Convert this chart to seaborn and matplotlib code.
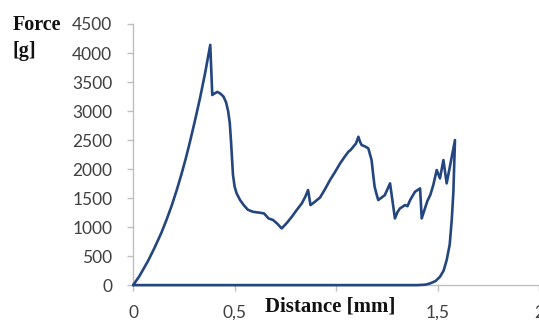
import matplotlib
matplotlib.use("Agg")
import matplotlib.pyplot as plt
import seaborn as sns
import pandas as pd

# Data
distance_mm = [0, 0.03, 0.074, 0.105, 0.139, 0.165, 0.189, 0.215, 0.238, 0.26,
               0.28, 0.305, 0.33, 0.355, 0.38, 0.39, 0.40, 0.415, 0.43, 0.445,
               0.458, 0.468, 0.476, 0.482, 0.487, 0.492, 0.50, 0.51, 0.527, 0.545,
               0.565, 0.59, 0.62, 0.645, 0.667, 0.69, 0.71, 0.732, 0.757, 0.782,
               0.805, 0.831, 0.848, 0.862, 0.874, 0.897, 0.921, 0.945, 0.97, 0.995,
               1.02, 1.04, 1.061, 1.072, 1.085, 1.098, 1.11, 1.118, 1.126, 1.143,
               1.159, 1.175, 1.183, 1.19, 1.2, 1.208, 1.24, 1.266, 1.29, 1.303,
               1.315, 1.34, 1.352, 1.365, 1.389, 1.414, 1.422, 1.45, 1.465, 1.479,
               1.496, 1.512, 1.529, 1.545, 1.586, 1.578, 1.57, 1.56, 1.545, 1.53,
               1.512, 1.49, 1.463, 1.44, 1.40, 0]
force_g = [0, 150, 420, 640, 900, 1130, 1360, 1640, 1910, 2190,
           2470, 2840, 3230, 3660, 4140, 3276, 3300, 3330, 3300, 3250,
           3150, 3000, 2800, 2500, 2200, 1900, 1700, 1580, 1466, 1379,
           1300, 1264, 1250, 1236, 1150, 1121, 1060, 977, 1070, 1178,
           1290, 1408, 1520, 1638, 1379, 1440, 1510, 1650, 1810, 1950,
           2098, 2200, 2299, 2330, 2385, 2440, 2557, 2470, 2414, 2390,
           2357, 2155, 1900, 1695, 1560, 1466, 1550, 1753, 1150, 1260,
           1322, 1380, 1360, 1466, 1609, 1667, 1150, 1450, 1560, 1724,
           1983, 1839, 2155, 1753, 2500, 1600, 1121, 700, 431, 250,
           143, 70, 29, 8, 0, 0]
x_ticks = [0, 0.5, 1, 1.5, 2]
x_tick_labels = ["0", "0,5", "", "1,5", "2"]
y_ticks = [0, 500, 1000, 1500, 2000, 2500, 3000, 3500, 4000, 4500]
y_tick_labels = [str(v) for v in y_ticks]

df = pd.DataFrame({"d": distance_mm, "f": force_g})

sns.set_style("white")
plt.rcParams["font.family"] = ["Lato", "DejaVu Sans"]

fig = plt.figure(figsize=(5.39, 3.20), dpi=100)
ax = fig.add_axes([0.247, 0.109, 0.753, 0.816])

sns.lineplot(data=df, x="d", y="f", sort=False, estimator=None, ax=ax,
             color="#24467F", linewidth=1.9, clip_on=False, zorder=5)

ax.set_xlim(0, 2)
ax.set_ylim(0, 4500)
ax.set_xticks(x_ticks)
ax.set_xticklabels(x_tick_labels)
ax.set_yticks(y_ticks)
ax.set_yticklabels(y_tick_labels)
ax.set_xlabel("")
ax.set_ylabel("")

for s in ["top", "right"]:
    ax.spines[s].set_visible(False)
for s in ["left", "bottom"]:
    ax.spines[s].set_color("#BFBFBF")
    ax.spines[s].set_linewidth(1.0)

ax.tick_params(axis="both", which="major", direction="out", length=4,
               width=1.0, color="#BFBFBF", labelsize=12.5, labelcolor="#404040",
               left=True, bottom=True)
ax.tick_params(axis="y", pad=11)
ax.tick_params(axis="x", pad=10)

serif = ["Liberation Serif", "DejaVu Serif"]
fig.text(13 / 539, 1 - 30 / 320, "Force", family=serif, fontweight="bold",
         fontsize=14.5, ha="left", va="baseline", color="#111111")
fig.text(13 / 539, 1 - 56 / 320, "[g]", family=serif, fontweight="bold",
         fontsize=14.5, ha="left", va="baseline", color="#111111")
fig.text(330 / 539, 1 - 312 / 320, "Distance [mm]", family=serif, fontweight="bold",
         fontsize=15, ha="center", va="baseline", color="#111111")

fig.savefig("out.png", dpi=100)
